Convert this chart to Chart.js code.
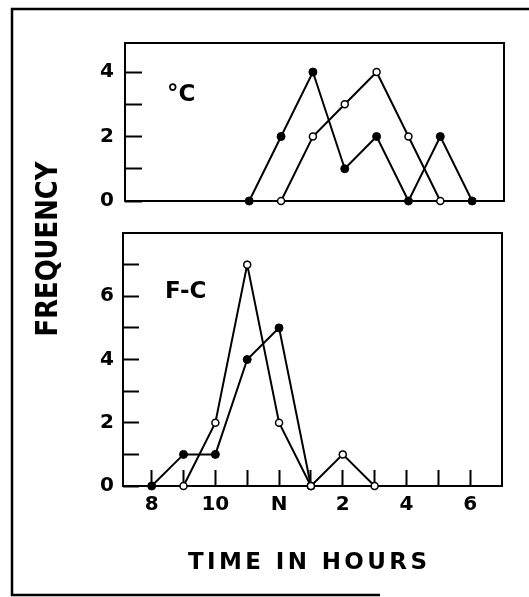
<!DOCTYPE html>
<html>
<head>
<meta charset="utf-8">
<script src="https://cdn.jsdelivr.net/npm/chart.js@4.4.0/dist/chart.umd.min.js"></script>
<style>
  html, body { margin: 0; padding: 0; background: #fff; }
  #wrap { position: relative; width: 529px; height: 597px; }
  canvas { position: absolute; left: 0; top: 0; }
</style>
</head>
<body>
<div id="wrap">
  <canvas id="fcChart" width="529" height="597"></canvas>
  <canvas id="cChart" width="529" height="597"></canvas>
</div>
<script>
// === Data: hour of day (24h) -> frequency ===
const cFilledHours = [11, 12, 13, 14, 15, 16, 17, 18];
const cFilledFreq  = [0, 2, 4, 1, 2, 0, 2, 0];
const cOpenHours   = [12, 13, 14, 15, 16, 17];
const cOpenFreq    = [0, 2, 3, 4, 2, 0];

const fcFilledHours = [8, 9, 10, 11, 12, 13];
const fcFilledFreq  = [0, 1, 1, 4, 5, 0];
const fcOpenHours   = [9, 10, 11, 12, 13, 14, 15];
const fcOpenFreq    = [0, 2, 7, 2, 0, 1, 0];

const hourTicks  = [8, 10, 12, 14, 16, 18];
const hourLabels = ['8', '10', 'N', '2', '4', '6'];
const freqLabels = [0, 2, 4, 6];

const FONT = "'DejaVu Sans', sans-serif";

function pairs(xs, ys) {
  return xs.map((x, i) => ({ x: x, y: ys[i] }));
}

function filledSet(xs, ys) {
  return {
    data: pairs(xs, ys), borderColor: '#000', borderWidth: 2, tension: 0, clip: false,
    pointRadius: 4, pointBackgroundColor: '#000', pointBorderColor: '#000', pointBorderWidth: 1
  };
}

function openSet(xs, ys) {
  return {
    data: pairs(xs, ys), borderColor: '#000', borderWidth: 2, tension: 0, clip: false,
    pointRadius: 3.5, pointBackgroundColor: '#fff', pointBorderColor: '#000', pointBorderWidth: 1.5
  };
}

// one tick on every whole unit inside the axis range (top edge excluded)
function wholeTicks(scale) {
  const out = [];
  for (let v = Math.ceil(scale.min); v < scale.max; v++) out.push({ value: v });
  scale.ticks = out;
}

// box round the plot area + panel name
const framePlugin = {
  id: 'frame',
  beforeDatasetsDraw(chart, args, opts) {
    const { ctx, chartArea: a } = chart;
    ctx.save();
    ctx.strokeStyle = '#000';
    ctx.lineWidth = 2;
    ctx.strokeRect(a.left, a.top, a.right - a.left, a.bottom - a.top);
    ctx.font = 'bold 23px ' + FONT;
    ctx.fillStyle = '#000';
    ctx.textBaseline = 'middle';
    ctx.fillText(opts.label, a.left + opts.dx, a.top + opts.dy);
    ctx.restore();
  }
};

// outer border and the shared axis titles
const pagePlugin = {
  id: 'page',
  afterDraw(chart) {
    const ctx = chart.ctx;
    ctx.save();
    ctx.strokeStyle = '#000';
    ctx.lineWidth = 2.5;
    ctx.beginPath();
    ctx.moveTo(529, 9);
    ctx.lineTo(12, 9);
    ctx.lineTo(12, 595);
    ctx.lineTo(380, 595);
    ctx.stroke();

    ctx.fillStyle = '#000';
    ctx.textBaseline = 'middle';

    // FREQUENCY, reading upwards
    ctx.save();
    ctx.translate(49, 249);
    ctx.rotate(-Math.PI / 2);
    ctx.font = 'bold 30px ' + FONT;
    const fw = ctx.measureText('FREQUENCY').width;
    ctx.scale(175 / fw, 1);
    ctx.textAlign = 'center';
    ctx.fillText('FREQUENCY', 0, 0);
    ctx.restore();

    // TIME IN HOURS, slightly spaced out
    ctx.font = 'bold 23px ' + FONT;
    ctx.textAlign = 'left';
    const title = 'TIME IN HOURS';
    const plain = ctx.measureText(title).width;
    const gap = (239 - plain) / (title.length - 1);
    let x = 188;
    for (const ch of title) {
      ctx.fillText(ch, x, 563);
      x += ctx.measureText(ch).width + gap;
    }
    ctx.restore();
  }
};

const tickFont = { family: FONT, size: 20, weight: 'bold' };

// === Lower panel: F-C ===
new Chart(document.getElementById('fcChart'), {
  type: 'line',
  data: { datasets: [openSet(fcOpenHours, fcOpenFreq), filledSet(fcFilledHours, fcFilledFreq)] },
  options: {
    responsive: false,
    animation: false,
    layout: { padding: { left: 0, top: 233, right: 27, bottom: 0 } },
    plugins: {
      legend: { display: false },
      tooltip: { enabled: false },
      frame: { label: 'F-C', dx: 42, dy: 59 }
    },
    scales: {
      x: {
        type: 'linear', min: 7.1, max: 19,
        afterBuildTicks: wholeTicks,
        afterFit: s => { s.height = 111; },
        border: { display: false },
        grid: { drawOnChartArea: false, tickLength: -16, tickWidth: 2, tickColor: '#000' },
        ticks: {
          autoSkip: false, maxRotation: 0, padding: 23,
          color: '#000', font: tickFont,
          callback: v => { const i = hourTicks.indexOf(v); return i >= 0 ? hourLabels[i] : ''; }
        }
      },
      y: {
        type: 'linear', min: 0, max: 8,
        afterBuildTicks: wholeTicks,
        afterFit: s => { s.width = 123; },
        border: { display: false },
        grid: { drawOnChartArea: false, tickLength: -16, tickWidth: 2, tickColor: '#000' },
        ticks: {
          padding: 25, color: '#000', font: tickFont,
          callback: v => freqLabels.includes(v) ? String(v) : ''
        }
      }
    }
  },
  plugins: [framePlugin, pagePlugin]
});

// === Upper panel: °C ===
new Chart(document.getElementById('cChart'), {
  type: 'line',
  data: { datasets: [openSet(cOpenHours, cOpenFreq), filledSet(cFilledHours, cFilledFreq)] },
  options: {
    responsive: false,
    animation: false,
    layout: { padding: { left: 0, top: 43, right: 25, bottom: 396 } },
    plugins: {
      legend: { display: false },
      tooltip: { enabled: false },
      frame: { label: '°C', dx: 42, dy: 52 }
    },
    scales: {
      x: { type: 'linear', min: 7.1, max: 19, display: false },
      y: {
        type: 'linear', min: 0, max: 4.9,
        afterBuildTicks: wholeTicks,
        afterFit: s => { s.width = 125; },
        border: { display: false },
        grid: { drawOnChartArea: false, tickLength: -17, tickWidth: 2, tickColor: '#000' },
        ticks: {
          padding: 28, color: '#000', font: tickFont,
          callback: v => freqLabels.includes(v) ? String(v) : ''
        }
      }
    }
  },
  plugins: [framePlugin]
});
</script>
</body>
</html>
